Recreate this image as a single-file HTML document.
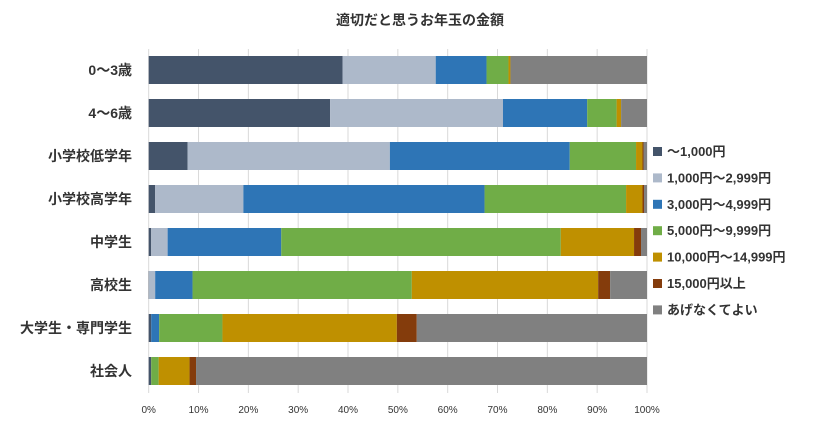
<!DOCTYPE html>
<html><head><meta charset="utf-8"><style>
body{margin:0;background:#fff;font-family:"Liberation Sans","Noto Sans CJK JP",sans-serif;}
svg text{font-family:"Liberation Sans","Noto Sans CJK JP",sans-serif;}
</style></head><body>
<svg id="c" width="840" height="423">
<text x="420" y="25" text-anchor="middle" font-size="14" font-weight="bold" fill="#333">適切だと思うお年玉の金額</text>
</svg>
<script>
const categories=["0〜3歳","4〜6歳","小学校低学年","小学校高学年","中学生","高校生","大学生・専門学生","社会人"];
const seriesNames=["〜1,000円","1,000円〜2,999円","3,000円〜4,999円","5,000円〜9,999円","10,000円〜14,999円","15,000円以上","あげなくてよい"];
const s1=[38.9,36.4,7.8,1.3,0.5,0.1,0.5,0.5];
const s2=[18.7,34.7,40.6,17.7,3.3,1.2,0,0];
const s3=[10.2,16.9,36.1,48.4,22.8,7.5,1.6,0];
const s4=[4.4,5.9,13.3,28.4,56.1,44,12.7,1.5];
const s5=[0.4,0.9,1.3,3.3,14.7,37.4,35,6.2];
const s6=[0,0,0.2,0.3,1.4,2.4,4,1.3];
const s7=[27.4,5.2,0.7,0.6,1.2,7.4,46.2,90.5];
const tickLabels=["0%","10%","20%","30%","40%","50%","60%","70%","80%","90%","100%"];
const colors=["#44546A","#ADB9CA","#2E75B6","#70AD47","#BF9000","#843C0C","#808080"];
const series=[s1,s2,s3,s4,s5,s6,s7];
const svg=document.getElementById('c');const NS="http://www.w3.org/2000/svg";
const x0=148.7,x1=647,plotTop=49,rowH=43,barH=28;
const xs=v=>x0+(x1-x0)*v/100;
const yc=i=>plotTop+21+i*rowH;
function mk(t,a){const e=document.createElementNS(NS,t);for(const k in a)e.setAttribute(k,a[k]);svg.appendChild(e);return e;}
tickLabels.forEach((t,i)=>{
 const x=xs(i*10);
 const g=mk('line',{x1:x,x2:x,y1:plotTop,y2:plotTop+8*rowH,stroke:'#d9d9d9','stroke-width':1});
 
 
 const tx=mk('text',{x:x,y:413,'text-anchor':'middle','font-size':10,fill:'#333'});tx.textContent=t;
 
 
});
categories.forEach((c,i)=>{
 const tx=mk('text',{x:132,y:yc(i)+5,'text-anchor':'end','font-size':14,'font-weight':'bold',fill:'#333'});tx.textContent=c;
 
 
 let acc=0;
 series.forEach((s,j)=>{
  const v=s[i];
  const r=mk('rect',{x:xs(acc),y:yc(i)-barH/2,width:Math.max(0,xs(acc+v)-xs(acc)),height:barH,fill:colors[j]});
  
  
  acc+=v;
 });
});
seriesNames.forEach((n,j)=>{
 const y=152+j*26.4;
 const r=mk('rect',{x:653,y:y-5,width:9,height:9,fill:colors[j]});
 
 
 const tx=mk('text',{x:667,y:y+4,'font-size':13,'font-weight':'bold',fill:'#333'});tx.textContent=n;
 
 
});
</script>
</body></html>
